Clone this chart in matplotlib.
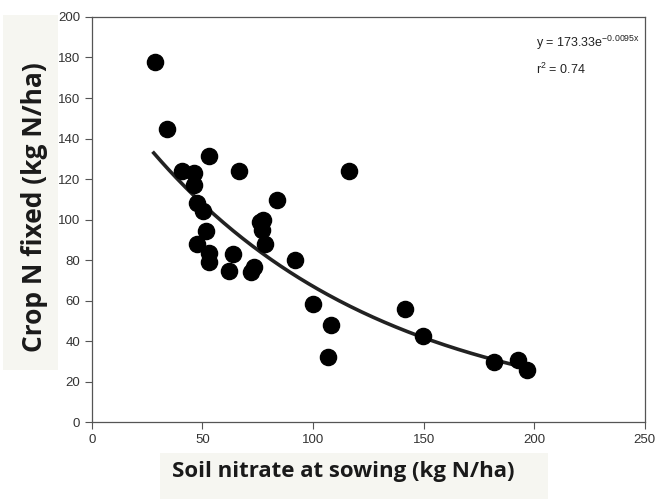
import numpy as np
import matplotlib
matplotlib.use("Agg")
import matplotlib.pyplot as plt
from matplotlib.patches import Rectangle

plt.rcParams['mathtext.fontset'] = 'custom'
plt.rcParams['mathtext.rm'] = 'Liberation Sans'
plt.rcParams['mathtext.it'] = 'Liberation Sans'

# soil nitrate at sowing vs crop N fixed
soil_nitrate = [28.5, 33.9, 40.7, 46.1, 46.1, 52.9, 66.5, 116.2, 83.6, 47.5,
                50.2, 51.5, 47.5, 52.9, 52.9, 63.7, 61.9, 71.9, 73.2, 75.9,
                77.3, 76.9, 78.2, 91.8, 99.9, 108.0, 106.7, 141.5, 149.6,
                181.7, 192.6, 196.7]
n_fixed = [177.8, 144.7, 123.9, 123.0, 117.0, 131.4, 123.9, 123.9, 109.6, 108.1,
           104.2, 94.3, 87.9, 83.5, 79.0, 83.0, 74.6, 74.1, 76.5, 98.8,
           99.8, 94.8, 87.9, 80.0, 58.3, 47.9, 32.1, 55.8, 42.5,
           29.6, 30.6, 25.7]

fit_a = 173.33
fit_b = -0.0095
fit_range = [28, 198]

xticks = [0, 50, 100, 150, 200, 250]
yticks = [0, 20, 40, 60, 80, 100, 120, 140, 160, 180, 200]

tick_font = ['Liberation Sans', 'DejaVu Sans']
label_font = ['Open Sans', 'DejaVu Sans']

fig = plt.figure(figsize=(6.56, 4.99), dpi=100)

# pale boxes behind the axis titles (pasted-on labels in the original)
fig.patches.append(Rectangle((0.005, 0.259), 0.083, 0.711, transform=fig.transFigure,
                             facecolor='#f6f6f1', edgecolor='none', zorder=0))
fig.patches.append(Rectangle((0.244, 0), 0.591, 0.092, transform=fig.transFigure,
                             facecolor='#f6f6f1', edgecolor='none', zorder=0))

ax = fig.add_axes([0.140, 0.154, 0.843, 0.812])

ax.scatter(soil_nitrate, n_fixed, s=135, color='black', zorder=3)

xf = np.linspace(fit_range[0], fit_range[1], 200)
ax.plot(xf, fit_a * np.exp(fit_b * xf), color='#222222', lw=2.6, zorder=2)

ax.set_xlim(0, 250)
ax.set_ylim(0, 200)
ax.set_xticks(xticks)
ax.set_yticks(yticks)
for lbl in ax.get_xticklabels() + ax.get_yticklabels():
    lbl.set_family(tick_font)
    lbl.set_fontsize(9.5)
    lbl.set_color('#333333')
ax.tick_params(length=5, width=0.8, color='#555555')
for sp in ax.spines.values():
    sp.set_color('#555555')
    sp.set_linewidth(0.9)

ax.text(201, 187, r'y = 173.33e$^{-0.0095x}$', fontsize=9, family=tick_font,
        va='center', color='#222222')
ax.text(201, 174, r'r$^2$ = 0.74', fontsize=9, family=tick_font,
        va='center', color='#222222')

fig.text(0.052, 0.585, 'Crop N fixed (kg N/ha)', rotation=90, fontsize=19,
         fontweight='bold', family=label_font, color='#1a1a1a',
         ha='center', va='center')
fig.text(0.523, 0.055, 'Soil nitrate at sowing (kg N/ha)', fontsize=16,
         fontweight='bold', family=label_font, color='#1a1a1a',
         ha='center', va='center')

fig.savefig('out.png', dpi=100)
